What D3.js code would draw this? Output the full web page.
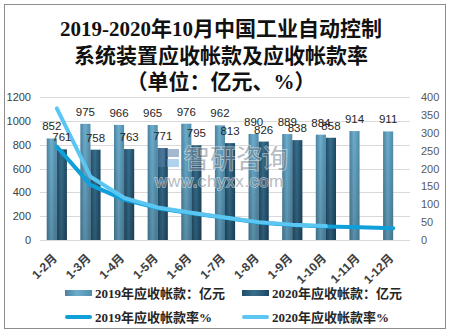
<!DOCTYPE html>
<html><head><meta charset="utf-8">
<script src="https://cdn.jsdelivr.net/npm/d3@7"></script>
<style>
html,body{margin:0;padding:0;background:#fff;}
svg{display:block;}
</style></head>
<body>
<svg id="chart" width="450" height="334"></svg>
<script>
const categories = ["1-2月","1-3月","1-4月","1-5月","1-6月","1-7月","1-8月","1-9月","1-10月","1-11月","1-12月"];
const receivable2019 = [852, 975, 966, 965, 976, 962, 890, 889, 884, 914, 911];
const receivable2020 = [761, 758, 763, 771, 795, 813, 826, 838, 858];
const rate2019 = [261, 154, 113, 89, 75, 62, 49, 42, 38, 36, 33];
const rate2020 = [368, 177, 118, 91, 76, 63, 50, 43, 39];
const leftTicks = [0, 200, 400, 600, 800, 1000, 1200];
const rightTicks = [0, 50, 100, 150, 200, 250, 300, 350, 400];
const titleLines = ["2019-2020年10月中国工业自动控制", "系统装置应收帐款及应收帐款率", "（单位：亿元、%）"];
const legendItems = ["2019年应收帐款：亿元", "2020年应收帐款：亿元", "2019年应收帐款率%", "2020年应收帐款率%"];

const svg = d3.select("#chart");
const defs = svg.append("defs");
function hGrad(id, stops) {
  const g = defs.append("linearGradient").attr("id", id).attr("x1", "0").attr("x2", "1").attr("y1", "0").attr("y2", "0");
  stops.forEach(s => g.append("stop").attr("offset", s[0]).attr("stop-color", s[1]));
}
hGrad("g2019", [["0%", "#4a83a1"], ["45%", "#6eaecd"], ["100%", "#4f8cab"]]);
hGrad("g2020", [["0%", "#214d68"], ["45%", "#376f8e"], ["100%", "#1e4862"]]);
const vg = defs.append("linearGradient").attr("id", "shade").attr("x1", "0").attr("x2", "0").attr("y1", "0").attr("y2", "1");
vg.append("stop").attr("offset", "0%").attr("stop-color", "#000").attr("stop-opacity", 0);
vg.append("stop").attr("offset", "100%").attr("stop-color", "#000").attr("stop-opacity", 0.18);

const serifCJK = "'Liberation Serif','Noto Sans CJK SC',serif";
const sans = "'Liberation Sans',Arial,sans-serif";
const sansCJK = "'Liberation Sans','Noto Sans CJK SC',sans-serif";

// border
svg.append("rect").attr("x", 4.5).attr("y", 4.5).attr("width", 441).attr("height", 324)
  .attr("fill", "none").attr("stroke", "#8c8c8c").attr("stroke-width", 1);

// title
svg.append("g").selectAll("text").data(titleLines).join("text")
  .attr("x", 221).attr("y", (d, i) => 36 + i * 26.5)
  .attr("text-anchor", "middle")
  .attr("font-family", serifCJK).attr("font-weight", "bold").attr("font-size", 21)
  .attr("fill", "#111").text(d => d);

const x = d3.scaleBand().domain(categories).range([40, 410]).paddingInner(0.4).paddingOuter(0.2);
const xs = d3.scaleBand().domain(["2019", "2020"]).range([0, x.bandwidth()]);
const y = d3.scaleLinear().domain([0, 1200]).range([240, 97]);
const yR = d3.scaleLinear().domain([0, 400]).range([240, 97]);

// gridlines
svg.append("g").selectAll("line").data(leftTicks).join("line")
  .attr("x1", 40).attr("x2", 410).attr("y1", d => Math.round(y(d)) + 0.5).attr("y2", d => Math.round(y(d)) + 0.5)
  .attr("stroke", "#d9d9d9").attr("stroke-width", 1);

// left axis labels
const leftAxis = d3.axisLeft(y).tickValues(leftTicks).tickFormat(d3.format("d")).tickSize(0).tickPadding(0);
const gl = svg.append("g").attr("transform", "translate(31,0)").call(leftAxis);
gl.select(".domain").remove();
gl.selectAll("text").attr("font-family", sans).attr("font-size", 11).attr("fill", "#404040");

// right axis labels
const rightAxis = d3.axisRight(yR).tickValues(rightTicks).tickFormat(d3.format("d")).tickSize(0).tickPadding(0);
const gr = svg.append("g").attr("transform", "translate(421,0)").call(rightAxis);
gr.select(".domain").remove();
gr.selectAll("text").attr("font-family", sans).attr("font-size", 11).attr("fill", "#595959");

// bars
function drawBars(vals, key, fillId) {
  const g = svg.append("g");
  const data = vals.map((v, i) => ({ c: categories[i], v }));
  g.selectAll("rect.b").data(data).join("rect").attr("class", "b")
    .attr("x", d => x(d.c) + xs(key)).attr("width", xs.bandwidth())
    .attr("y", d => y(d.v)).attr("height", d => y(0) - y(d.v))
    .attr("fill", `url(#${fillId})`);
  g.selectAll("rect.s").data(data).join("rect").attr("class", "s")
    .attr("x", d => x(d.c) + xs(key)).attr("width", xs.bandwidth())
    .attr("y", d => y(d.v)).attr("height", d => y(0) - y(d.v))
    .attr("fill", "url(#shade)");
  return data;
}
const d19 = drawBars(receivable2019, "2019", "g2019");
const d20 = drawBars(receivable2020, "2020", "g2020");

// watermark
const wm = svg.append("g").attr("opacity", 0.55);
wm.append("rect").attr("x", 157).attr("y", 149).attr("width", 8).attr("height", 18).attr("fill", "#5b7fa8");
wm.append("rect").attr("x", 167).attr("y", 149).attr("width", 12).attr("height", 8).attr("fill", "#5b7fa8");
wm.append("rect").attr("x", 167).attr("y", 159).attr("width", 12).attr("height", 8).attr("fill", "#6fb0de");
wm.append("text").attr("x", 184).attr("y", 168).attr("font-family", "'Noto Sans CJK SC',sans-serif")
  .attr("font-size", 26).attr("fill", "#7a8794").attr("stroke", "#fff").attr("stroke-width", 1.5)
  .attr("paint-order", "stroke").text("智研咨询");
wm.append("text").attr("x", 155).attr("y", 187).attr("font-family", sans)
  .attr("font-size", 17).attr("fill", "#7a8794").attr("stroke", "#fff").attr("stroke-width", 1.5)
  .attr("paint-order", "stroke").attr("letter-spacing", 0.6).text("www.chyxx.com");

// rate lines
const line = d3.line().x((d, i) => x(categories[i]) + x.bandwidth() / 2).y(d => yR(d));
svg.append("path").datum(rate2019).attr("d", line).attr("fill", "none")
  .attr("stroke", "#0f9fd9").attr("stroke-width", 4).attr("stroke-linecap", "round").attr("stroke-linejoin", "round");
svg.append("path").datum(rate2020).attr("d", line).attr("fill", "none")
  .attr("stroke", "#5cc6f2").attr("stroke-width", 4).attr("stroke-linecap", "round").attr("stroke-linejoin", "round");

// data labels
function labels(data, key) {
  svg.append("g").selectAll("text").data(data).join("text")
    .attr("x", d => x(d.c) + xs(key) + xs.bandwidth() / 2)
    .attr("y", d => y(d.v) - 8)
    .attr("text-anchor", "middle").attr("font-family", sans).attr("font-size", 11.5)
    .attr("fill", "#262626").text(d => d.v);
}
labels(d19, "2019");
labels(d20, "2020");

// x labels
svg.append("g").selectAll("text").data(categories).join("text")
  .attr("transform", d => `translate(${x(d) + x.bandwidth() / 2 + 1},259) rotate(-45)`)
  .attr("text-anchor", "end").attr("font-family", sansCJK).attr("font-weight", "bold")
  .attr("font-size", 12).attr("fill", "#404040").text(d => d);

// legend
const lg = svg.append("g");
const lpos = [[65, 293], [242, 293], [65, 317], [242, 317]];
lg.append("rect").attr("x", lpos[0][0]).attr("y", lpos[0][1] - 3).attr("width", 27).attr("height", 6).attr("fill", "url(#g2019)");
lg.append("rect").attr("x", lpos[1][0]).attr("y", lpos[1][1] - 3).attr("width", 27).attr("height", 6).attr("fill", "url(#g2020)");
lg.append("line").attr("x1", lpos[2][0] + 2).attr("x2", lpos[2][0] + 25).attr("y1", lpos[2][1]).attr("y2", lpos[2][1])
  .attr("stroke", "#0f9fd9").attr("stroke-width", 4).attr("stroke-linecap", "round");
lg.append("line").attr("x1", lpos[3][0] + 2).attr("x2", lpos[3][0] + 25).attr("y1", lpos[3][1]).attr("y2", lpos[3][1])
  .attr("stroke", "#5cc6f2").attr("stroke-width", 4).attr("stroke-linecap", "round");
lg.selectAll("text").data(legendItems).join("text")
  .attr("x", (d, i) => lpos[i][0] + 30).attr("y", (d, i) => lpos[i][1] + 4.5)
  .attr("font-family", serifCJK).attr("font-weight", "bold").attr("font-size", 13)
  .attr("fill", "#262626").text(d => d);
</script>
</body></html>
